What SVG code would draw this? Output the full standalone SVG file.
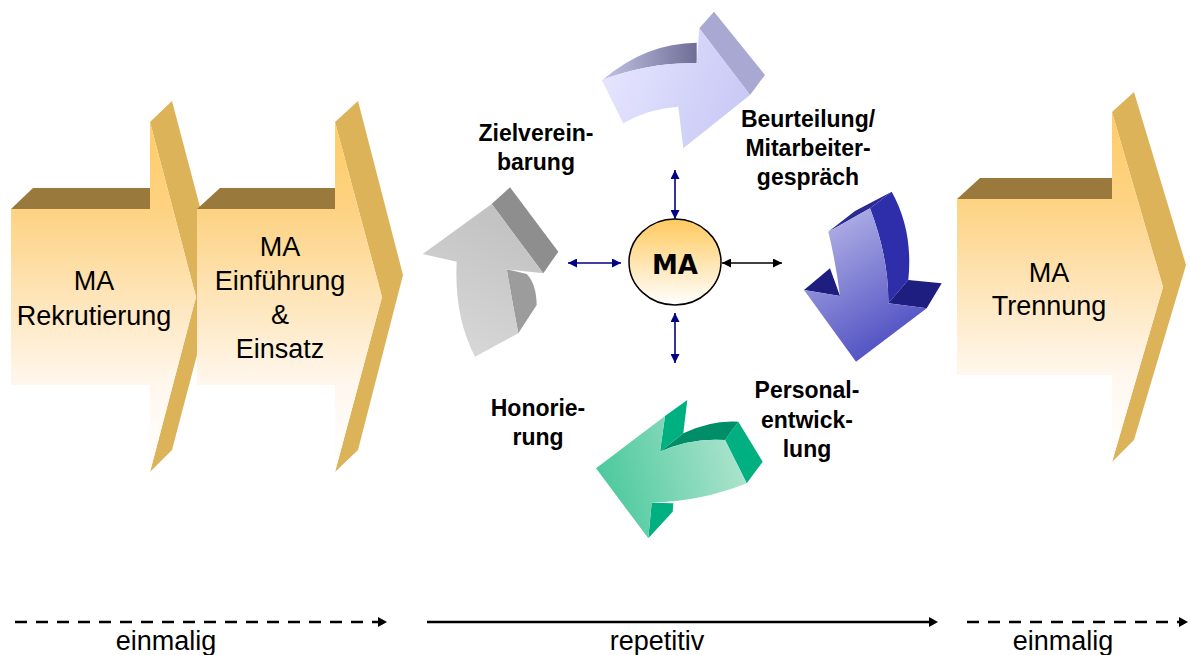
<svg xmlns="http://www.w3.org/2000/svg" width="1190" height="655" viewBox="0 0 1190 655">
<style>
.lbl{font-family:"Liberation Sans",Arial,sans-serif;font-size:27px;fill:#000;text-anchor:middle}
.blbl{font-family:"Liberation Sans",Arial,sans-serif;font-size:23px;font-weight:bold;fill:#000;text-anchor:middle}
.side{fill:#DDB35A}
.top{fill:#9A7A3C}
.front{fill:url(#gOrange)}
.con{stroke:#000080;stroke-width:1.6;fill:none}
.tl{stroke:#000;stroke-width:2.5;fill:none}
</style>
<defs>
<linearGradient id="gOrange" x1="0" y1="0" x2="0" y2="1">
<stop offset="0" stop-color="#FFCC66"/>
<stop offset="0.25" stop-color="#FDD282"/>
<stop offset="0.75" stop-color="#FFF7EE"/>
<stop offset="1" stop-color="#FFFFFF"/>
</linearGradient>
<linearGradient id="gCircle" x1="0" y1="0" x2="0" y2="1">
<stop offset="0" stop-color="#FFC95E"/>
<stop offset="1" stop-color="#FFFFFF"/>
</linearGradient>
<linearGradient id="gGray" x1="0.7" y1="0" x2="0.3" y2="1">
<stop offset="0" stop-color="#C0C0C0"/>
<stop offset="1" stop-color="#D8D8D8"/>
</linearGradient>
<linearGradient id="gLav" x1="0" y1="0.3" x2="1" y2="0.6">
<stop offset="0" stop-color="#E6E6FF"/>
<stop offset="1" stop-color="#C8C8F5"/>
</linearGradient>
<linearGradient id="gLavBand" x1="0" y1="0" x2="1" y2="0">
<stop offset="0" stop-color="#C4C4E4"/>
<stop offset="1" stop-color="#6E6E98"/>
</linearGradient>
<linearGradient id="gBlue" x1="0.2" y1="0" x2="0.7" y2="1">
<stop offset="0" stop-color="#B6B6E8"/>
<stop offset="1" stop-color="#4848C0"/>
</linearGradient>
<linearGradient id="gGreen" x1="0" y1="0.6" x2="1" y2="0.4">
<stop offset="0" stop-color="#48C89C"/>
<stop offset="1" stop-color="#AEE4CE"/>
</linearGradient>
<marker id="ahN" viewBox="0 0 10 10" refX="10" refY="5" markerWidth="10" markerHeight="9" markerUnits="userSpaceOnUse" orient="auto-start-reverse">
<path d="M0,0 L10,5 L0,10 Z" fill="#000080"/>
</marker>
<marker id="ahK" viewBox="0 0 10 10" refX="10" refY="5" markerWidth="10" markerHeight="9" markerUnits="userSpaceOnUse" orient="auto-start-reverse">
<path d="M0,0 L10,5 L0,10 Z" fill="#000"/>
</marker>
</defs>
<rect width="1190" height="655" fill="#fff"/>

<g id="arrow-rekrutierung">
<polygon class="top" points="11,209 33,188 150,188 150,209"/>
<polygon class="side" points="150,122 172,101 218,275 172,450 150,472 196,297"/>
<polygon class="front" points="11,209 150,209 150,122 196,297 150,472 150,385 11,385"/>
<text class="lbl" x="94" y="290">MA</text>
<text class="lbl" x="94" y="325">Rekrutierung</text>
</g>

<g id="arrow-einfuehrung">
<polygon class="top" points="197,209 220,188 335,188 335,209"/>
<polygon class="side" points="335,122 358,101 403,275 358,450 335,472 382,297"/>
<polygon class="front" points="197,209 335,209 335,122 382,297 335,472 335,385 197,385"/>
<text class="lbl" x="280" y="256">MA</text>
<text class="lbl" x="280" y="290">Einführung</text>
<text class="lbl" x="280" y="324">&amp;</text>
<text class="lbl" x="280" y="358">Einsatz</text>
</g>

<g id="arrow-trennung">
<polygon class="top" points="957,199 980,178 1112,178 1112,199"/>
<polygon class="side" points="1112,112 1134,92 1186,265 1134,440 1112,462 1163,287"/>
<polygon class="front" points="957,199 1112,199 1112,112 1163,287 1112,462 1112,375 957,375"/>
<text class="lbl" x="1049" y="282">MA</text>
<text class="lbl" x="1049" y="315">Trennung</text>
</g>

<g id="cycle-zielvereinbarung">
<path d="M491.7,204 L510,187.3 L558.3,251.7 L543.3,273.3 Z" fill="#8E8E8E"/>
<path d="M506.7,269.3 L526.7,274 Q536.3,283.9 536.7,305 L518.3,333.3 Q512.9,305.3 506.7,269.3 Z" fill="#9C9C9C"/>
<path d="M422.7,254 L491.7,204 L543.3,273.3 L506.7,269.3 Q512.9,305.3 518.3,333.3 L475,356.7 Q454,317 456.7,261.7 Z" fill="url(#gGray)"/>
<text class="blbl" x="536" y="141">Zielverein-</text>
<text class="blbl" x="536" y="170">barung</text>
</g>

<g id="cycle-beurteilung">
<path d="M603.3,79.3 Q646,43 696.7,42.7 L696.7,63.3 Q650.8,61.8 601.7,80 Z" fill="url(#gLavBand)"/>
<path d="M699.3,28.3 L714,11.7 L765,75 L750,95 Z" fill="#A8A8D2"/>
<path d="M601.7,80 L623.3,123.3 Q649.2,108.4 678.3,106.7 L683.3,148.3 L750,95 L699.3,28.3 L696.7,63.3 Q650.8,61.8 601.7,80 Z" fill="url(#gLav)"/>
<text class="blbl" x="808" y="127">Beurteilung/</text>
<text class="blbl" x="808" y="156">Mitarbeiter-</text>
<text class="blbl" x="808" y="185">gespräch</text>
</g>

<g id="cycle-personalentwicklung">
<path d="M828.3,231.7 L870,208.3 L891.7,191.7 L855,211 Z" fill="#2A2A92"/>
<path d="M870,208.3 L891.7,191.7 Q913.4,230.8 908.3,280 L888.3,303.3 Q888.8,257.6 870,208.3 Z" fill="#2E2EAA"/>
<path d="M804,290 L830,268.3 L840,296 Z" fill="#1E1E80"/>
<path d="M888.3,303.3 L908.3,280 L941.7,283.3 L926.7,308.3 Z" fill="#1E1E80"/>
<path d="M828.3,231.7 L870,208.3 Q888.8,257.6 888.3,303.3 L926.7,308.3 L856,361.7 L804,290 L840,296 Q835.9,262.8 828.3,231.7 Z" fill="url(#gBlue)"/>
<text class="blbl" x="807" y="398">Personal-</text>
<text class="blbl" x="807" y="428">entwick-</text>
<text class="blbl" x="807" y="457">lung</text>
</g>

<g id="cycle-honorierung">
<path d="M725,440 L738.3,421.7 L762.7,461.7 L746.7,483.3 Z" fill="#00B080"/>
<path d="M660,451.7 L683.3,433.3 Q711,420 738.3,421.7 L725,440 Q690.9,437.5 660,451.7 Z" fill="#008E68"/>
<path d="M665,416 L687.3,400 L683.3,433.3 L660,451.7 Z" fill="#00B080"/>
<path d="M648.3,538.3 L672.7,511.7 L673.3,503.3 L651.7,502.7 Z" fill="#00B080"/>
<path d="M665,416 L596,468.3 L648.3,538.3 L651.7,502.7 Q700.8,501.6 746.7,483.3 L725,440 Q690.9,437.5 660,451.7 Z" fill="url(#gGreen)"/>
<text class="blbl" x="538" y="416">Honorie-</text>
<text class="blbl" x="538" y="445">rung</text>
</g>

<g id="node-ma">
<ellipse cx="675" cy="262" rx="46" ry="43" fill="url(#gCircle)" stroke="#000" stroke-width="1.5"/>
<text x="675" y="274" font-family="'DejaVu Sans',Verdana,sans-serif" font-size="26" font-weight="bold" text-anchor="middle" fill="#000">MA</text>
</g>

<g id="connectors">
<line class="con" x1="675" y1="170" x2="675" y2="219" marker-start="url(#ahN)" marker-end="url(#ahN)"/>
<line class="con" x1="568" y1="263" x2="621" y2="263" marker-start="url(#ahN)" marker-end="url(#ahN)"/>
<line x1="722" y1="263" x2="782" y2="263" stroke="#000" stroke-width="1.6" marker-start="url(#ahK)" marker-end="url(#ahK)"/>
<line class="con" x1="675" y1="313" x2="675" y2="363" marker-start="url(#ahN)" marker-end="url(#ahN)"/>
</g>

<g id="timeline">
<line class="tl" x1="15" y1="622" x2="386" y2="622" stroke-dasharray="12 9"/>
<path d="M378,617 L387,622 L378,627 Z" fill="#000"/>
<line class="tl" x1="427" y1="622" x2="930" y2="622"/>
<path d="M929,617 L938,622 L929,627 Z" fill="#000"/>
<line class="tl" x1="967" y1="622" x2="1180" y2="622" stroke-dasharray="12 9"/>
<path d="M1179,617 L1188,622 L1179,627 Z" fill="#000"/>
<text class="lbl" x="166" y="650">einmalig</text>
<text class="lbl" x="657" y="650">repetitiv</text>
<text class="lbl" x="1063" y="650">einmalig</text>
</g>
</svg>
